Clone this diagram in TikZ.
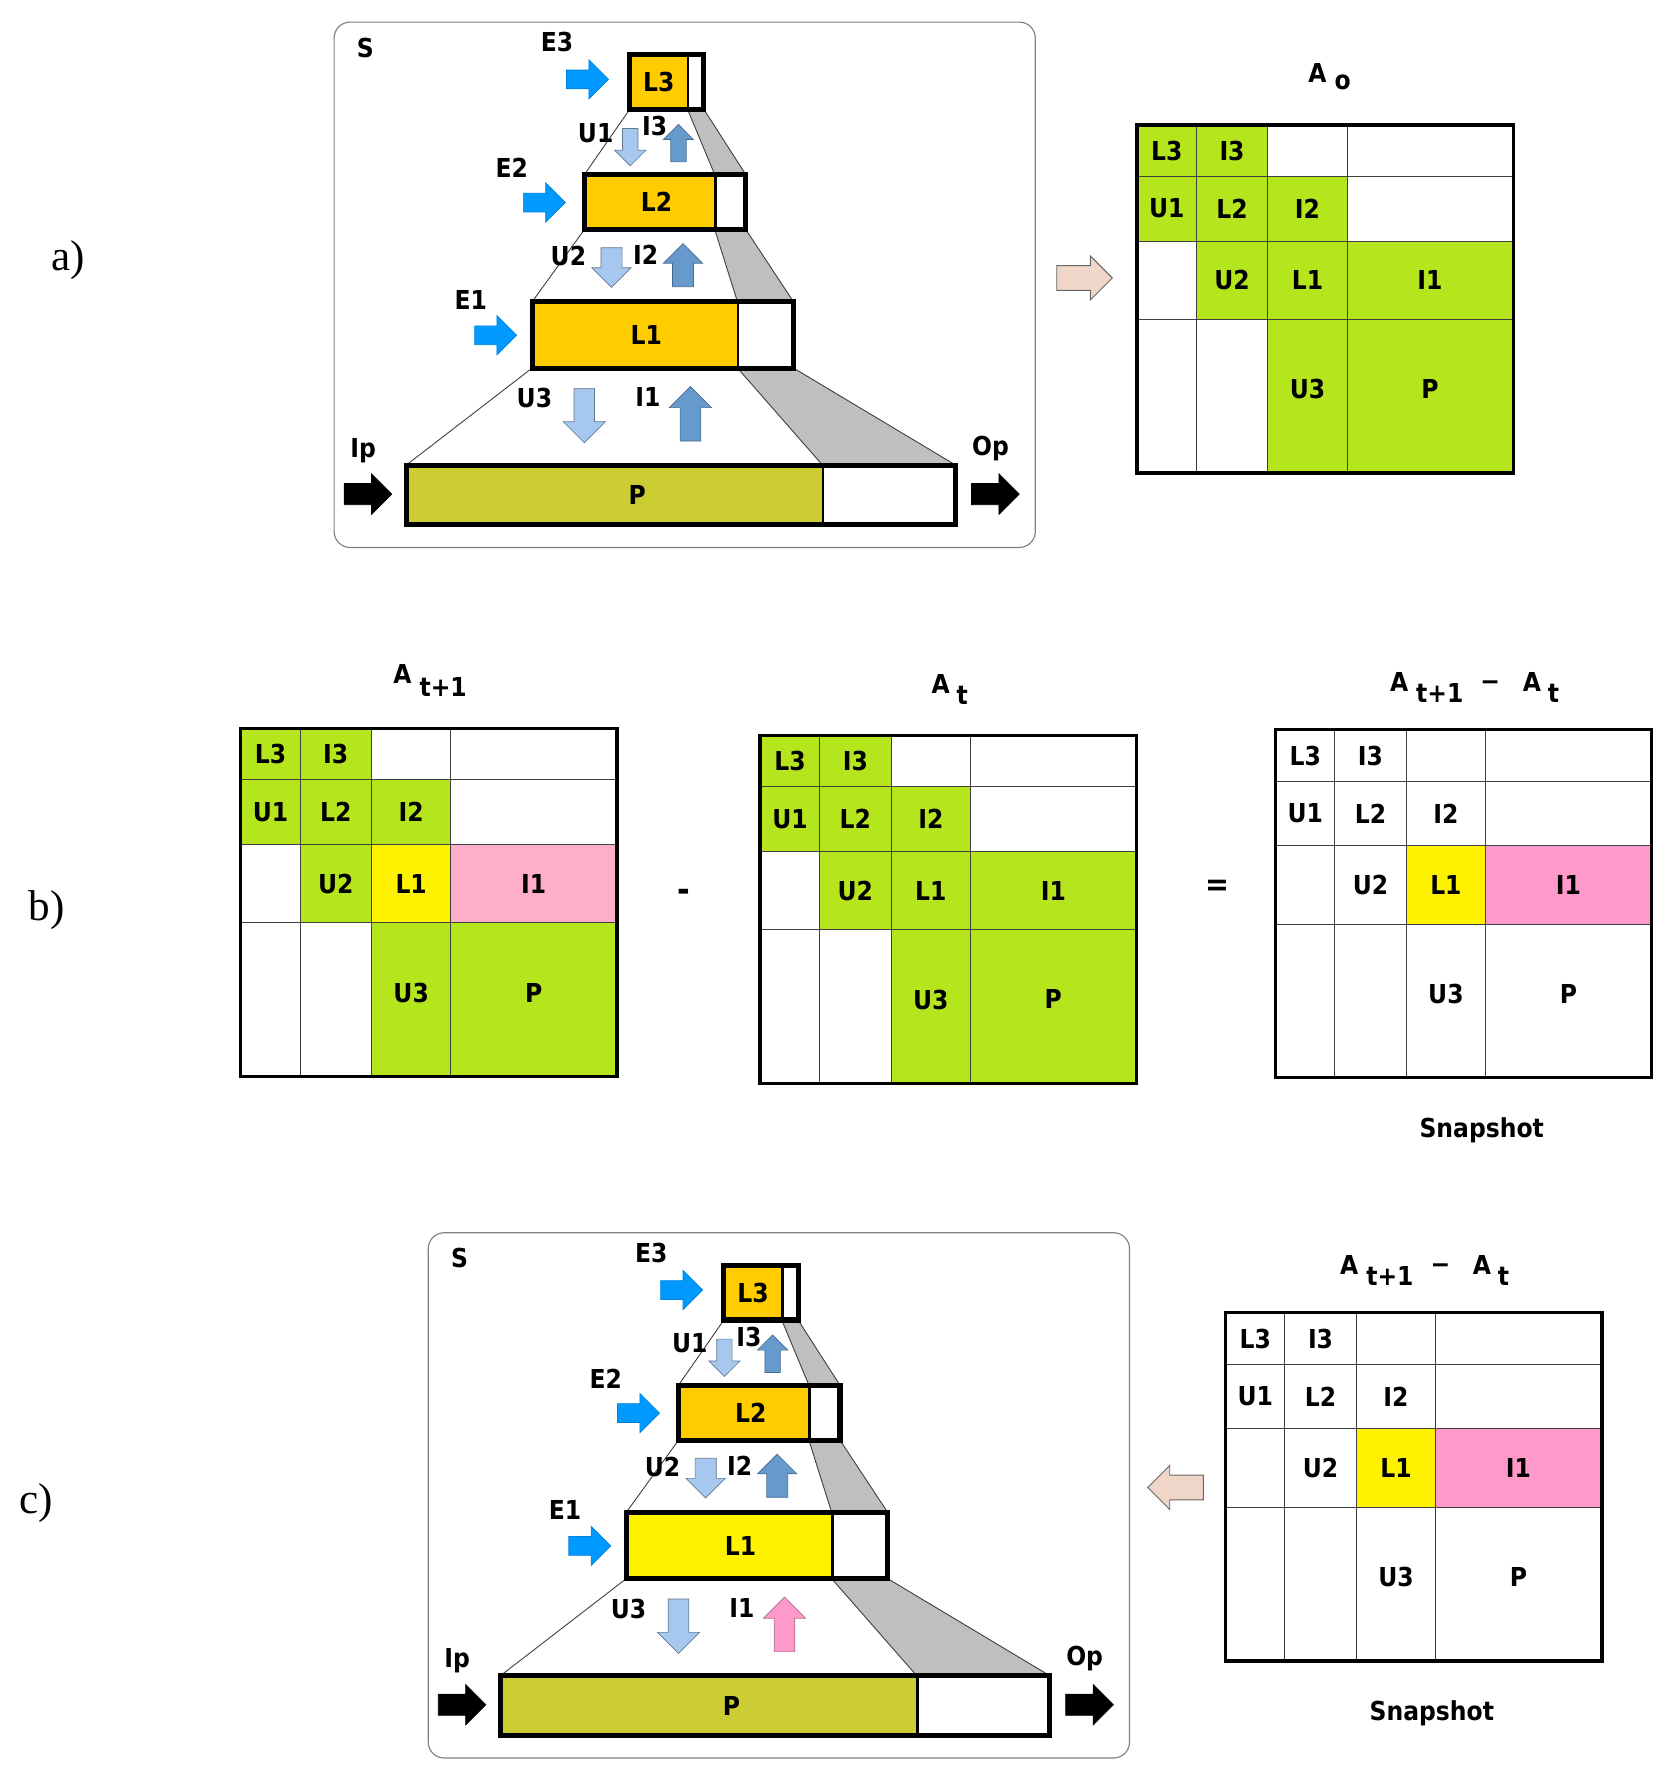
\documentclass[tikz,border=0pt]{standalone}
\usepackage{fontspec}
\setmainfont{Liberation Serif}
\newfontfamily\lblfont[FakeStretch=0.9]{DejaVu Sans}
\usetikzlibrary{shapes.arrows}
\definecolor{lyel}{HTML}{FFCC00}
\definecolor{lyelA}{HTML}{FFF200}
\definecolor{pcol}{HTML}{CCCC33}
\definecolor{mgreen}{HTML}{B5E61D}
\definecolor{mpink}{HTML}{FFAEC9}
\definecolor{spink}{HTML}{FF99CC}
\definecolor{eblue}{HTML}{0099FF}
\definecolor{ublue}{HTML}{A6C8EE}
\definecolor{iblue}{HTML}{6699CC}
\definecolor{beige}{HTML}{F0D6C8}
\definecolor{trapc}{HTML}{BFBFBF}
\definecolor{framec}{HTML}{808080}
\definecolor{gridc}{HTML}{404040}

\begin{document}
\begin{tikzpicture}[x=1pt, y=-1pt,
  lbl/.style={font=\lblfont\bfseries\fontsize{23}{26}\selectfont, inner sep=0pt},
  panel/.style={font=\fontsize{38}{40}\selectfont, inner sep=0pt, anchor=base west},
  frm/.style={draw=framec, line width=1pt, rounded corners=14pt, anchor=north west, inner sep=0pt, minimum width=618pt, minimum height=463pt},
  part/.style={inner sep=0pt, anchor=north west},
  bline/.style={line width=4.5pt},
  dline/.style={line width=2.5pt},
  trapz/.style={fill=trapc, draw=gridc, line width=0.8pt},
  thinl/.style={draw=gridc, line width=0.8pt},
  cell/.style={lbl, draw=gridc, line width=0.8pt, anchor=north west, fill=white},
  mframe/.style={line width=3pt},
  blk/.style={single arrow, single arrow tip angle=90, line width=0.6pt, anchor=tail},
  earr/.style={blk, fill=eblue, draw=eblue!85!black, minimum height=37pt, inner sep=8pt, single arrow head extend=9pt},
  uarr/.style={blk, fill=ublue, draw=ublue!60!black, shape border rotate=270},
  iarr/.style={blk, shape border rotate=90},
  parr/.style={blk, fill=black, draw=black, minimum height=42pt, inner sep=9pt, single arrow head extend=8.5pt},
  barr/.style={blk, fill=beige, draw=gray!80!black, line width=0.8pt, minimum height=49pt, inner sep=10.5pt, single arrow head extend=8.5pt},
  pics/ladder/.style 2 args={code={
    \node[frm] (-fr) at (1,1) {};
    \node[lbl] (-S) at (29,24) {S};
    % level boxes, filled part and free part
    \node[part, fill=lyel, minimum width=51pt, minimum height=48pt, label={[lbl]center:L3}] (-L3) at (262,30) {};
    \node[part, fill=white, minimum width=14pt, minimum height=48pt] (-L3w) at (313,30) {};
    \node[part, fill=lyel, minimum width=115pt, minimum height=48pt, label={[lbl, xshift=6pt]center:L2}] (-L2) at (222,136) {};
    \node[part, fill=white, minimum width=27pt, minimum height=48pt] (-L2w) at (337,136) {};
    \node[part, fill=#1, minimum width=181pt, minimum height=58pt, label={[lbl, xshift=10pt]center:L1}] (-L1) at (176,248) {};
    \node[part, fill=white, minimum width=49pt, minimum height=58pt] (-L1w) at (357,248) {};
    \node[part, fill=pcol, minimum width=367pt, minimum height=52pt, label={[lbl, xshift=20pt]center:P}] (-P) at (65,392) {};
    \node[part, fill=white, minimum width=117pt, minimum height=52pt] (-Pw) at (432,392) {};
    \foreach \a/\b in {L3/L2, L2/L1, L1/P} {
      \draw[trapz] (-\a w.south west) -- (-\a w.south east) -- (-\b w.north east) -- (-\b w.north west) -- cycle;
      \draw[thinl] (-\a.south west) -- (-\b.north west);
    }
    \foreach \a in {L3, L2, L1, P} {
      \draw[bline] (-\a.north west) rectangle (-\a w.south east);
      \draw[dline] (-\a.north east) -- (-\a.south east);
    }
    % flows
    \node[earr] (-E3a) at (206,52) {};
    \node[lbl] (-E3) at (198,19) {E3};
    \node[earr] (-E2a) at (168,160.5) {};
    \node[lbl] (-E2) at (158,130) {E2};
    \node[earr] (-E1a) at (125,277.5) {};
    \node[lbl] (-E1) at (122,246) {E1};
    \node[uarr, minimum height=33pt, inner sep=6.5pt, single arrow head extend=7pt] (-U1a) at (262.5,95) {};
    \node[lbl] (-U1) at (232,99) {U1};
    \node[iarr, fill=iblue, draw=iblue!70!black, minimum height=33pt, inner sep=6.5pt, single arrow head extend=6.5pt] (-I3a) at (305,125) {};
    \node[lbl] (-I3) at (284,93) {I3};
    \node[uarr, minimum height=35pt, inner sep=9pt, single arrow head extend=8pt] (-U2a) at (246,200) {};
    \node[lbl] (-U2) at (208,208) {U2};
    \node[iarr, fill=iblue, draw=iblue!70!black, minimum height=38pt, inner sep=9pt, single arrow head extend=8pt] (-I2a) at (309,235) {};
    \node[lbl] (-I2) at (276,207) {I2};
    \node[uarr, minimum height=48pt, inner sep=8.75pt, single arrow head extend=9.5pt] (-U3a) at (222,324) {};
    \node[lbl] (-U3) at (178,333) {U3};
    \node[iarr, fill=#2, draw=#2!70!black, minimum height=48pt, inner sep=8.75pt, single arrow head extend=9.5pt] (-I1a) at (315.5,371) {};
    \node[lbl] (-I1) at (278,332) {I1};
    \node[parr] (-Ipa) at (10,417.5) {};
    \node[lbl] (-Ip) at (27,379) {Ip};
    \node[parr] (-Opa) at (563,417.5) {};
    \node[lbl] (-Op) at (580,377) {Op};
  }},
  pics/mtx/.style n args={3}{code={
    \node[cell, fill=#1, minimum width=52pt, minimum height=45pt] (-L3) at (0,0) {L3};
    \node[cell, fill=#1, minimum width=63pt, minimum height=45pt] (-I3) at (52,0) {I3};
    \node[cell, minimum width=70pt, minimum height=45pt] (-c13) at (115,0) {};
    \node[cell, minimum width=146pt, minimum height=45pt] (-c14) at (185,0) {};
    \node[cell, fill=#1, minimum width=52pt, minimum height=57pt] (-U1) at (0,45) {U1};
    \node[cell, fill=#1, minimum width=63pt, minimum height=57pt] (-L2) at (52,45) {L2};
    \node[cell, fill=#1, minimum width=70pt, minimum height=57pt] (-I2) at (115,45) {I2};
    \node[cell, minimum width=146pt, minimum height=57pt] (-c24) at (185,45) {};
    \node[cell, minimum width=52pt, minimum height=69pt] (-c31) at (0,102) {};
    \node[cell, fill=#1, minimum width=63pt, minimum height=69pt] (-U2) at (52,102) {U2};
    \node[cell, fill=#2, minimum width=70pt, minimum height=69pt] (-L1) at (115,102) {L1};
    \node[cell, fill=#3, minimum width=146pt, minimum height=69pt] (-I1) at (185,102) {I1};
    \node[cell, minimum width=52pt, minimum height=135pt] (-c41) at (0,171) {};
    \node[cell, minimum width=63pt, minimum height=135pt] (-c42) at (52,171) {};
    \node[cell, fill=#1, minimum width=70pt, minimum height=135pt, text depth=12pt] (-U3) at (115,171) {U3};
    \node[cell, fill=#1, minimum width=146pt, minimum height=135pt, text depth=12pt] (-P) at (185,171) {P};
    \draw[mframe] (-L3.north west) rectangle (-P.south east);
  }}]
  \useasboundingbox (0,0) rectangle (1475,1568);

  % a)
  \node[panel] (pa) at (45,238) {a)};
  \pic (la) at (293,18) {ladder={lyel}{iblue}};
  \node[barr] (ra) at (931,245) {};
  \node[lbl, anchor=base west] (tao) at (1153,73) {A\hspace{7pt}\raisebox{-6pt}{o}};
  \pic (ao) at (1002,110) {mtx={mgreen}{mgreen}{mgreen}};

  % b)
  \node[panel] (pb) at (25,811) {b)};
  \node[lbl, anchor=base west] (tb1) at (346.6,602) {A\hspace{7pt}\raisebox{-12pt}{t+1}};
  \pic (ab) at (212,642) {mtx={mgreen}{lyelA}{mpink}};
  \node[lbl, font=\lblfont\bfseries\fontsize{30}{30}\selectfont, anchor=base] (mi) at (602.8,795) {-};
  \node[lbl, anchor=base west] (tb2) at (821,611) {A\hspace{6pt}\raisebox{-10pt}{t}};
  \pic (at) at (670,648) {mtx={mgreen}{mgreen}{mgreen}};
  \node[lbl, font=\lblfont\bfseries\fontsize{28}{28}\selectfont, anchor=base] (eq) at (1073,789.5) {=};
  \node[lbl, anchor=base west] (tb3) at (1225,609.4) {A\hspace{7pt}\raisebox{-10pt}{t+1}\hspace{15pt}\raisebox{1pt}{−}\hspace{20pt}A\hspace{6pt}\raisebox{-10pt}{t}};
  \pic (sb) at (1124,643) {mtx={white}{lyelA}{spink}};
  \node[lbl] (snb) at (1306,996) {Snapshot};

  % c)
  \node[panel] (pc) at (17,1334) {c)};
  \pic (lc) at (376,1085) {ladder={lyelA}{spink}};
  \node[barr, shape border rotate=180] (rc) at (1061,1311) {};
  \node[lbl, anchor=base west] (tc) at (1181,1123.4) {A\hspace{7pt}\raisebox{-10pt}{t+1}\hspace{15pt}\raisebox{1pt}{−}\hspace{20pt}A\hspace{6pt}\raisebox{-10pt}{t}};
  \pic (sc) at (1080,1157) {mtx={white}{lyelA}{spink}};
  \node[lbl] (snc) at (1262,1510) {Snapshot};
\end{tikzpicture}
\end{document}
